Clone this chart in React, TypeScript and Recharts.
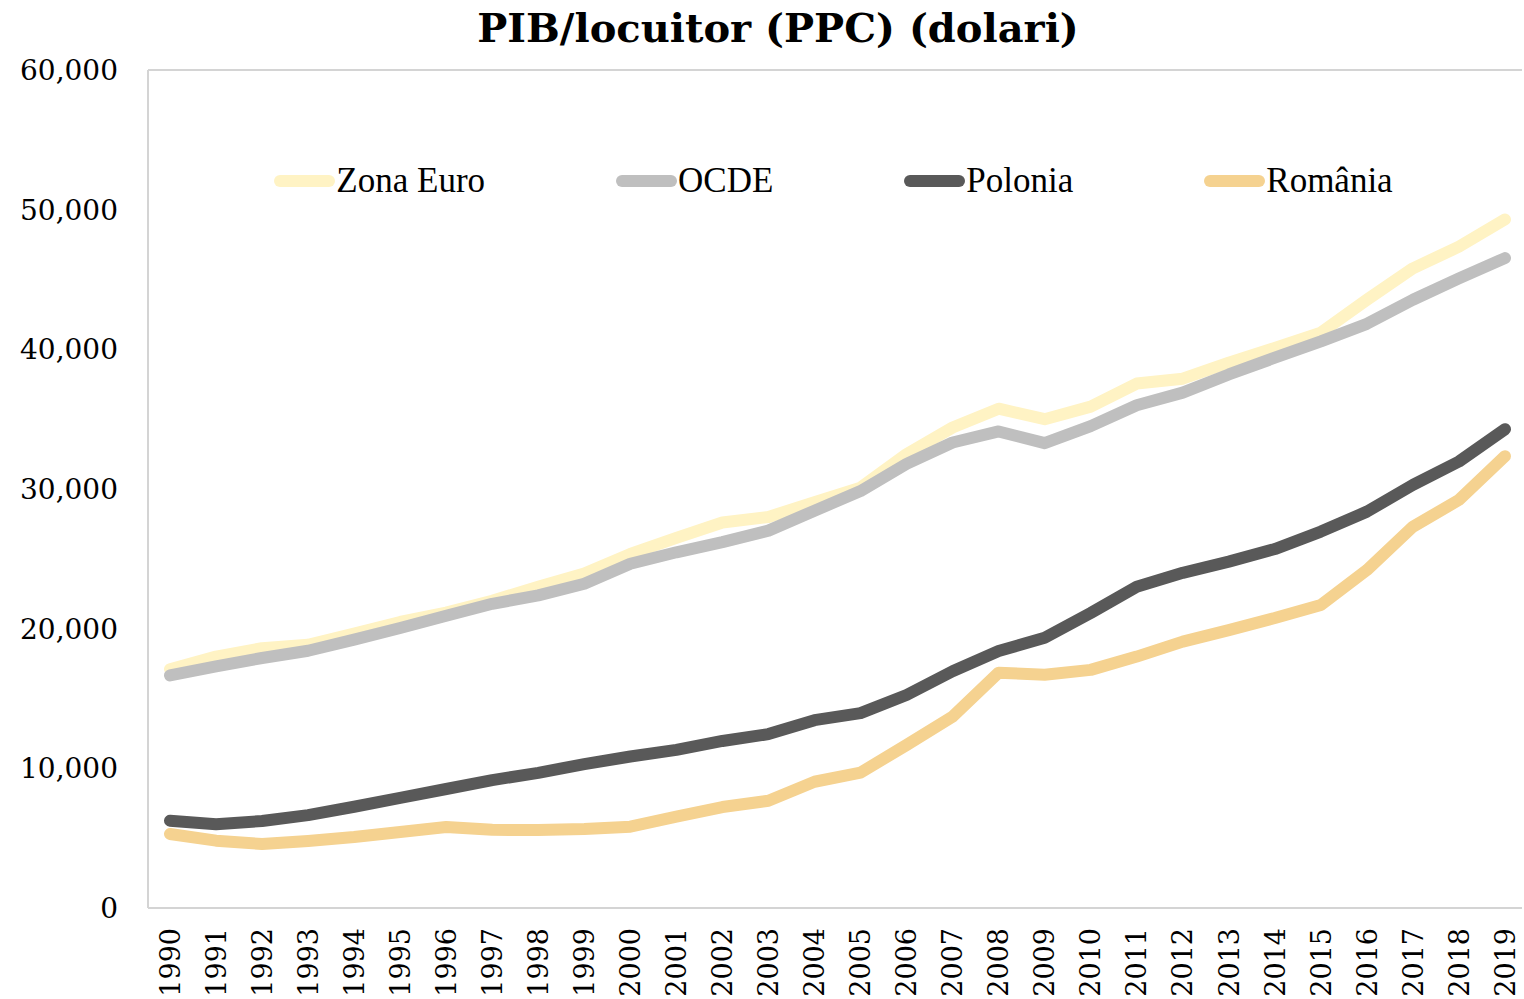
import { LineChart, Line, XAxis, YAxis, ReferenceLine, Legend } from 'recharts';

const years = [
  '1990', '1991', '1992', '1993', '1994', '1995', '1996', '1997', '1998', '1999',
  '2000', '2001', '2002', '2003', '2004', '2005', '2006', '2007', '2008', '2009',
  '2010', '2011', '2012', '2013', '2014', '2015', '2016', '2017', '2018', '2019',
];

const zonaEuro = [
  17100, 18000, 18600, 18850, 19650, 20480, 21150, 22000, 23000, 23950,
  25350, 26500, 27600, 28000, 29050, 30100, 32500, 34400, 35750, 35000,
  35900, 37550, 37900, 39050, 40100, 41200, 43550, 45800, 47350, 49300,
];
const ocde = [
  16650, 17300, 17900, 18420, 19220, 20050, 20930, 21780, 22380, 23220,
  24650, 25470, 26200, 27020, 28450, 29850, 31800, 33330, 34120, 33280,
  34500, 36000, 36900, 38200, 39400, 40570, 41830, 43550, 45080, 46530,
];
const polonia = [
  6250, 6000, 6230, 6650, 7250, 7880, 8520, 9160, 9680, 10300,
  10850, 11320, 11960, 12450, 13450, 13950, 15250, 16950, 18400, 19350,
  21120, 23000, 24000, 24800, 25700, 26950, 28380, 30300, 31970, 34280,
];
const romania = [
  5300, 4820, 4580, 4800, 5080, 5440, 5800, 5600, 5580, 5650,
  5820, 6540, 7230, 7680, 9040, 9690, 11670, 13700, 16850, 16700,
  17050, 18000, 19070, 19900, 20760, 21700, 24200, 27300, 29220, 32350,
];

const yTicks = [0, 10000, 20000, 30000, 40000, 50000, 60000];

const series = [
  { key: 'zonaEuro', name: 'Zona Euro', color: '#FFF3C4' },
  { key: 'ocde', name: 'OCDE', color: '#BFBFBF' },
  { key: 'polonia', name: 'Polonia', color: '#595959' },
  { key: 'romania', name: 'România', color: '#F5D290' },
];

const data = years.map((year, i) => ({
  year,
  zonaEuro: zonaEuro[i],
  ocde: ocde[i],
  polonia: polonia[i],
  romania: romania[i],
}));

const tickFont = '"DejaVu Serif", serif';
const legendFont = '"Liberation Serif", "Times New Roman", serif';

function YearTick(props: any) {
  const { x, y, payload } = props;
  return (
    <text
      x={x}
      y={y}
      transform={`rotate(-90, ${x}, ${y})`}
      textAnchor="end"
      dy="0.36em"
      fill="#000"
      fontSize={27}
      fontFamily={tickFont}
    >
      {payload.value}
    </text>
  );
}

function LegendContent() {
  return (
    <div style={{ display: 'flex', justifyContent: 'center', alignItems: 'center', gap: 130 }}>
      {series.map((s) => (
        <div key={s.key} style={{ display: 'flex', alignItems: 'center' }}>
          <svg width={63} height={14}>
            <line x1={7} y1={7} x2={56} y2={7} stroke={s.color} strokeWidth={12} strokeLinecap="round" />
          </svg>
          <span style={{ fontFamily: legendFont, fontSize: 35, color: '#000', lineHeight: '40px' }}>{s.name}</span>
        </div>
      ))}
    </div>
  );
}

export default function App() {
  return (
    <div style={{ position: 'absolute', left: 0, top: 0, width: 1524, height: 999, background: '#fff', overflow: 'hidden' }}>
      <div
        style={{
          position: 'absolute', left: 378, top: 4, width: 800, textAlign: 'center', whiteSpace: 'nowrap',
          fontFamily: tickFont, fontWeight: 'bold', fontSize: 40, lineHeight: '48px', color: '#000',
        }}
      >
        PIB/locuitor (PPC) (dolari)
      </div>
      <LineChart
        width={1524}
        height={999}
        data={data}
        margin={{ top: 70, right: 2, bottom: 0, left: 8 }}
      >
        <XAxis
          dataKey="year"
          height={91}
          interval={0}
          padding={{ left: 22, right: 17 }}
          tickLine={false}
          tickSize={0}
          tickMargin={20}
          axisLine={{ stroke: '#D4D4D4', strokeWidth: 2 }}
          tick={<YearTick />}
        />
        <YAxis
          width={140}
          domain={[0, 60000]}
          ticks={yTicks}
          interval={0}
          tickLine={false}
          tickSize={0}
          tickMargin={30}
          axisLine={{ stroke: '#D4D4D4', strokeWidth: 2 }}
          tickFormatter={(v: number) => v.toLocaleString('en-US')}
          tick={{ fill: '#000', fontSize: 28, fontFamily: tickFont }}
        />
        <ReferenceLine y={60000} stroke="#D4D4D4" strokeWidth={2} />
        <Legend
          verticalAlign="middle"
          align="center"
          layout="horizontal"
          content={<LegendContent />}
          wrapperStyle={{ top: 161, left: 146, width: 1374 }}
        />
        {series.map((s) => (
          <Line
            key={s.key}
            type="linear"
            dataKey={s.key}
            name={s.name}
            stroke={s.color}
            strokeWidth={12}
            strokeLinecap="round"
            strokeLinejoin="round"
            dot={false}
            activeDot={false}
            isAnimationActive={false}
          />
        ))}
      </LineChart>
    </div>
  );
}
